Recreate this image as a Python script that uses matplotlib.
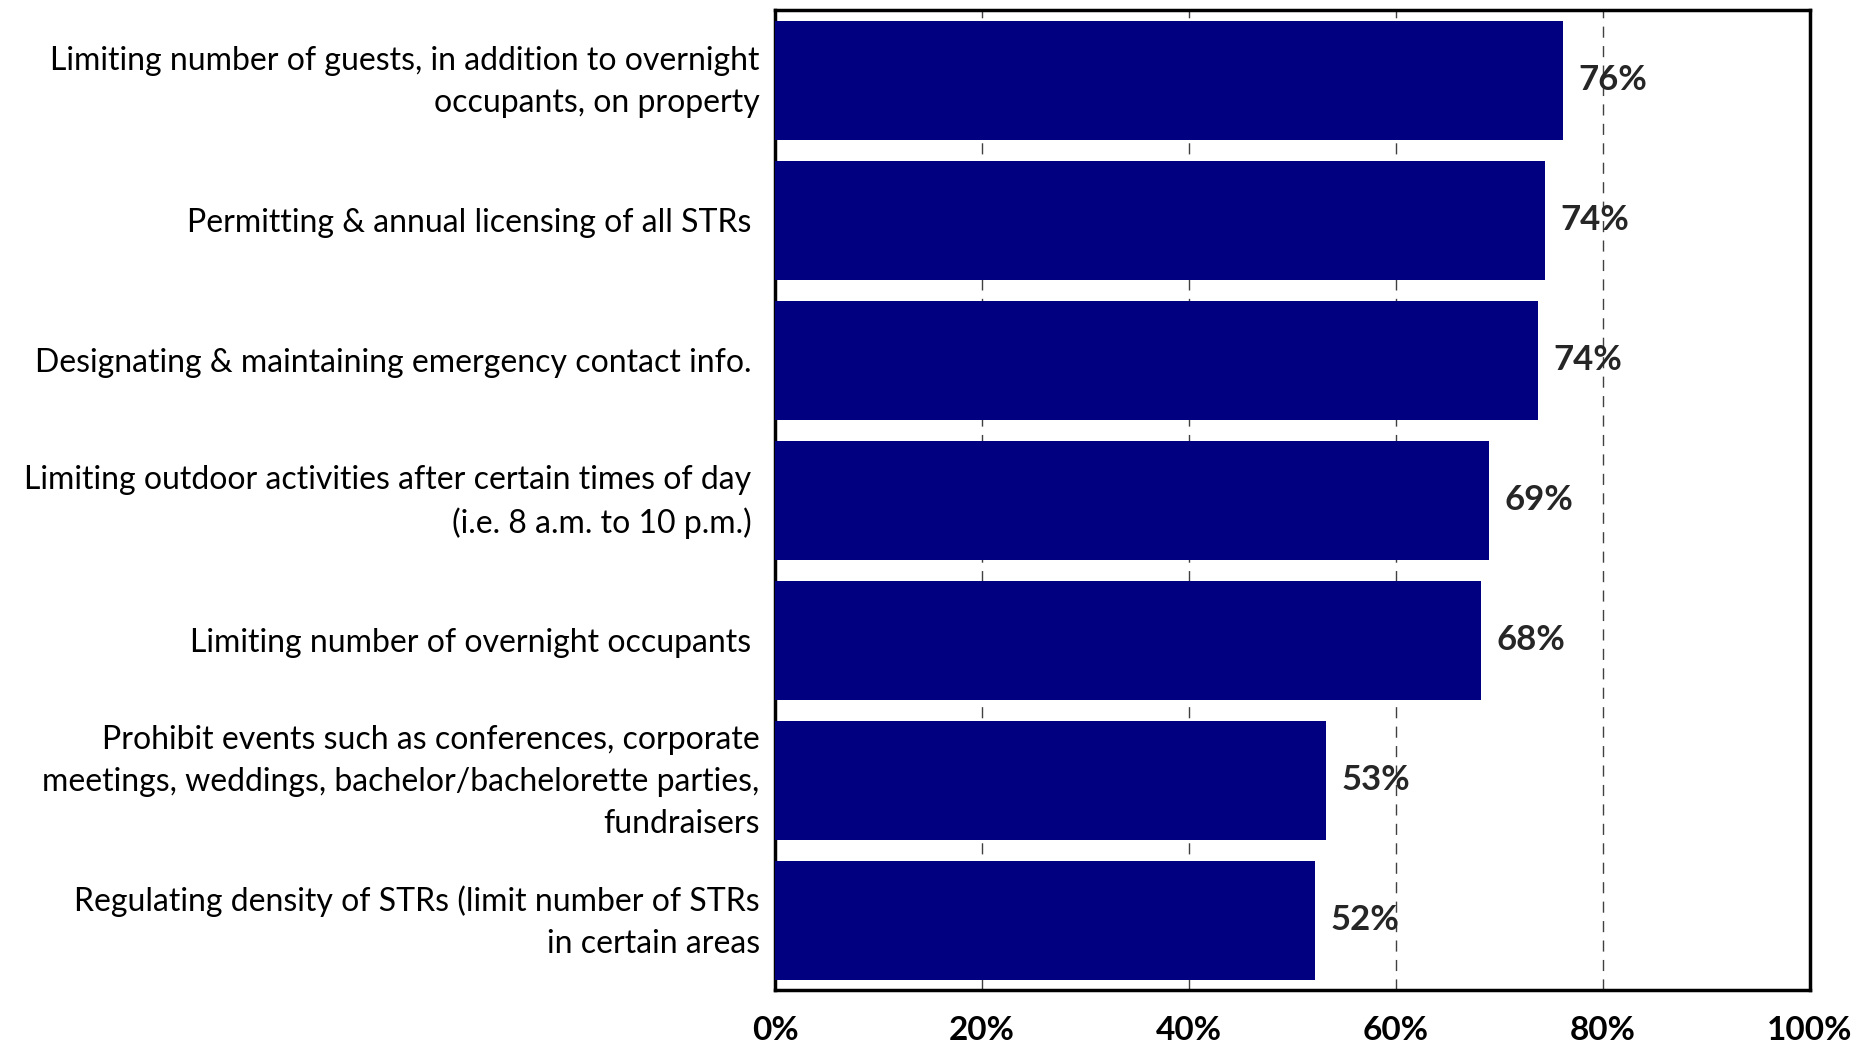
import matplotlib
matplotlib.use("Agg")
import matplotlib.pyplot as plt

# Survey results: share of respondents supporting each STR regulation
categories = [
    "Limiting number of guests, in addition to overnight\noccupants, on property",
    "Permitting & annual licensing of all STRs ",
    "Designating & maintaining emergency contact info. ",
    "Limiting outdoor activities after certain times of day \n(i.e. 8 a.m. to 10 p.m.) ",
    "Limiting number of overnight occupants ",
    "Prohibit events such as conferences, corporate\nmeetings, weddings, bachelor/bachelorette parties,\nfundraisers",
    "Regulating density of STRs (limit number of STRs\nin certain areas",
]
values = [76.1, 74.4, 73.7, 69.0, 68.2, 53.2, 52.2]
x_ticks = [0, 20, 40, 60, 80, 100]
x_tick_labels = ["0%", "20%", "40%", "60%", "80%", "100%"]

bar_color = "#000080"
text_color = "#262626"
font = "Lato"

fig = plt.figure(figsize=(18.73, 10.45), dpi=100)
ax = fig.add_axes([775 / 1873, 1 - 990 / 1045, (1810 - 775) / 1873, (990 - 10) / 1045])

y = list(range(len(categories)))
ax.barh(y, values, height=0.85, color=bar_color, zorder=3)

ax.set_xlim(0, 100)
ax.set_ylim(len(categories) - 0.5, -0.5)

ax.set_xticks(x_ticks)
ax.set_xticklabels(x_tick_labels, fontsize=24, fontweight="bold",
                   color="black", family=font)
ax.tick_params(axis="x", length=0, pad=19)

# Category labels drawn beside the axis
ax.set_yticks(y)
ax.set_yticklabels([])
ax.tick_params(axis="y", length=0)
for yi, label in zip(y, categories):
    shift = -1.5 if "\n" in label else -2
    ax.annotate(label, xy=(0, yi), xycoords=("axes fraction", "data"),
                xytext=(-11, shift), textcoords="offset points",
                ha="right", va="center", fontsize=23, color="black",
                family=font, linespacing=1.5, annotation_clip=False)

for xv in x_ticks[1:-1]:
    ax.axvline(xv, color="#404040", lw=1.0, ls=(0, (8, 6)), zorder=1)

for s in ax.spines.values():
    s.set_linewidth(2.5)
    s.set_color("black")

for yi, v in zip(y, values):
    ax.text(v + 1.5, yi, f"{round(v)}%", va="center", ha="left",
            fontsize=25, fontweight="bold", color=text_color, family=font,
            zorder=4)

fig.savefig("out.png", dpi=100)
